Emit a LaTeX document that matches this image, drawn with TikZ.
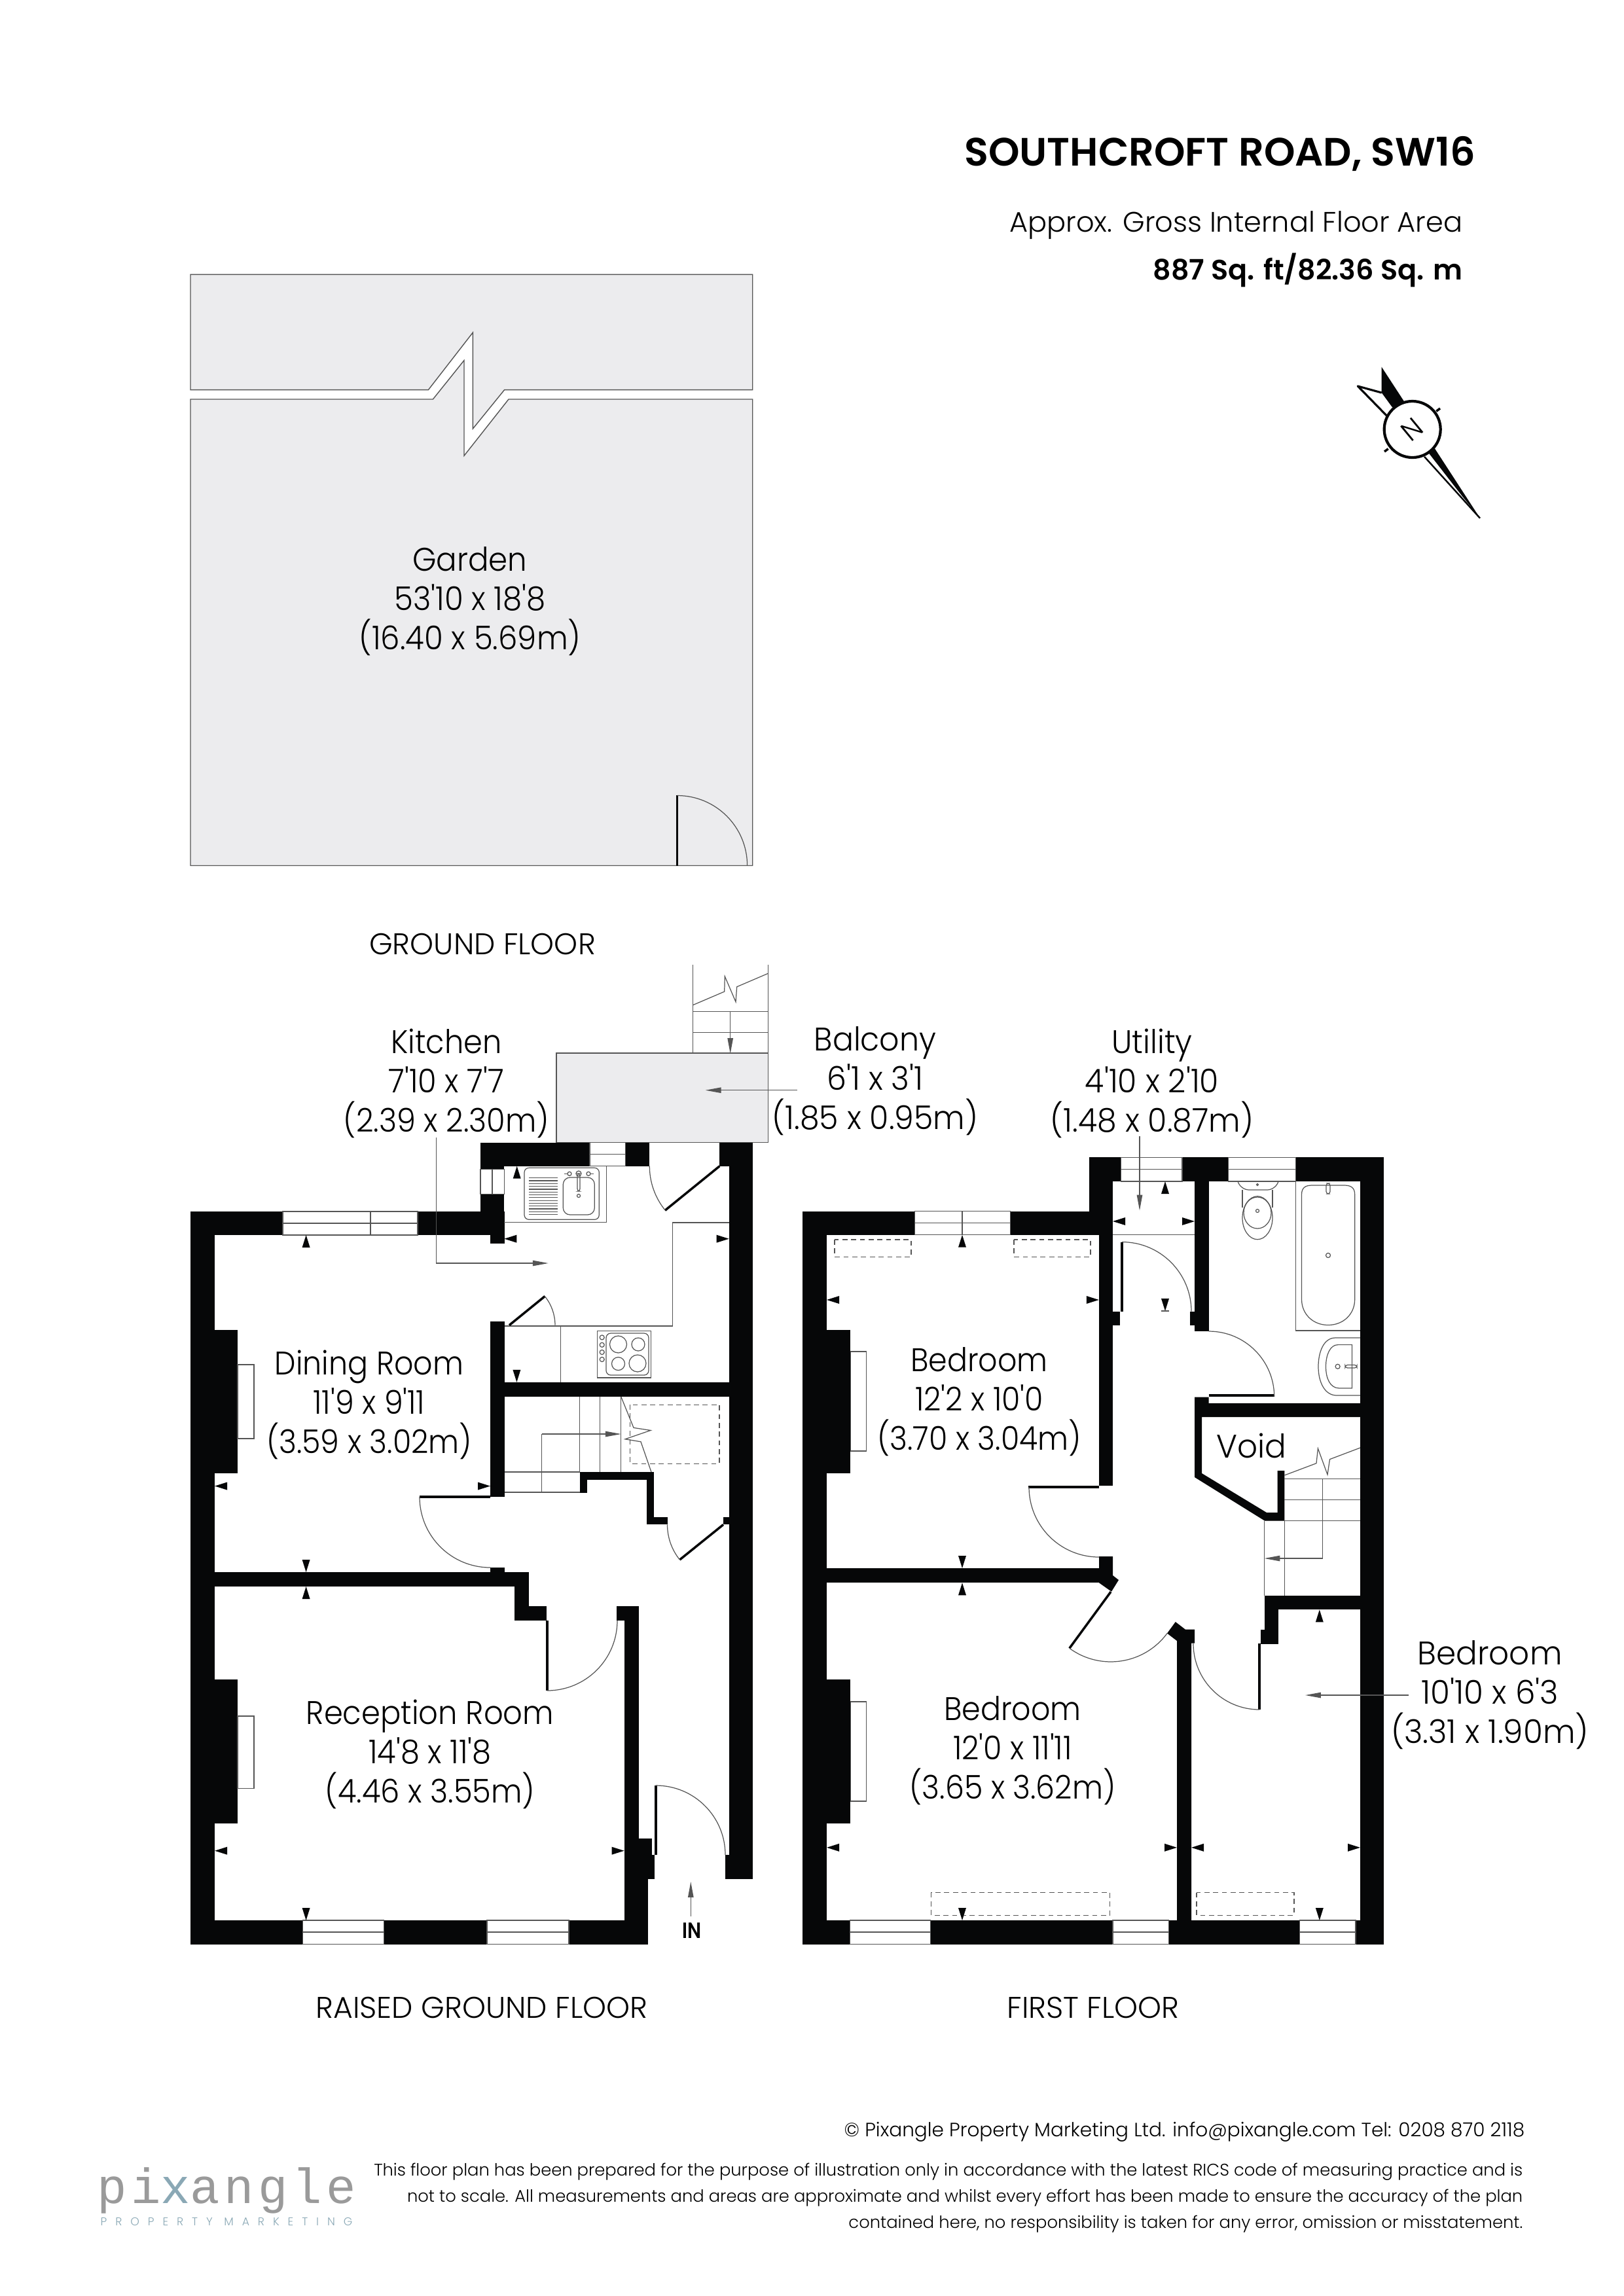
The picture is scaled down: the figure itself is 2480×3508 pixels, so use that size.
\documentclass[tikz,border=0pt]{standalone}
\usepackage{fontspec}
\usetikzlibrary{arrows.meta}
\newfontfamily\planfont{Poppins}[UprightFont=* Light,BoldFont=* SemiBold]
\newfontfamily\logofont{Liberation Mono}[LetterSpace=8.5]
\newfontfamily\logosubfont{Poppins}[UprightFont=* Light,LetterSpace=75]
\definecolor{wallblack}{HTML}{060708}
\definecolor{gardengrey}{HTML}{ECECEE}
\definecolor{linegrey}{HTML}{555555}
\definecolor{logogrey}{HTML}{9A9A9A}
\definecolor{logoblue}{HTML}{8AA8B5}
\tikzset{
  wall/.style={fill=wallblack},
  tipmark/.style={fill=wallblack},
  thinline/.style={draw=linegrey,line width=0.35pt},
  dashbox/.style={draw=linegrey,line width=0.3pt,dash pattern=on 2.2pt off 1.6pt},
  leaf/.style={draw=wallblack,line width=1pt},
  leader/.style={draw=linegrey,line width=0.35pt,-{Triangle[length=6.8pt,width=2.4pt]}},
  roomlabel/.style={align=center,inner sep=0pt,yshift=-0.65mm,font=\planfont\fontsize{14.2}{17}\selectfont},
  floorlabel/.style={inner sep=0pt,font=\planfont\fontsize{13}{14}\selectfont},
  smallprint/.style={align=right,inner sep=0pt,anchor=east,font=\planfont\fontsize{7.33}{11.4}\selectfont}
}
\begin{document}
\begin{tikzpicture}[x=0.01cm,y=-0.01cm]
  \useasboundingbox (0,0) rectangle (2480,3508);

  % Heading
  \node[inner sep=0pt,anchor=east,font=\planfont\bfseries\fontsize{17.2}{20}\selectfont] (title) at (2255,235) {SOUTHCROFT ROAD, SW16};
  \node[inner sep=0pt,anchor=east,font=\planfont\fontsize{12.25}{14}\selectfont] (areatext) at (2235,344) {Approx. Gross Internal Floor Area};
  \node[inner sep=0pt,anchor=east,font=\planfont\bfseries\fontsize{12.2}{14}\selectfont] (areavalue) at (2235,413) {887 Sq. ft/82.36 Sq. m};

  % Compass
  \fill[wallblack] (2110.7,560.7) -- (2145,613.3) -- (2127.3,622.7) -- (2110.7,600) -- cycle;
  \draw[wallblack,line width=0.9pt,line join=round] (2110.7,600) -- (2074.3,590) -- (2118.3,635);
  \fill[wallblack] (2191.7,685) -- (2261,791.7) -- (2233,757) -- (2183.3,693) -- cycle;
  \draw[wallblack,line width=0.7pt] (2176,697.7) -- (2261,791.7);
  \draw[wallblack,line width=1.2pt,fill=white] (2157.7,656) circle (43);
  \draw[wallblack,line width=1pt] (2194.3,628.3) -- (2200,624);
  \draw[wallblack,line width=1pt] (2115,690) -- (2120.7,685.7);
  \node[inner sep=0pt,rotate=39.5,font=\planfont\fontsize{11.8}{12}\selectfont] (northmark) at (2157.7,656) {N};

  % Garden
  \fill[gardengrey,draw=linegrey,line width=0.4pt] (291,419.4) -- (1149.7,419.4) -- (1149.7,595.6) -- (770.6,595.6) -- (722.4,655) -- (722.4,508) -- (654.4,595.6) -- (291,595.6) -- cycle;
  \fill[gardengrey,draw=linegrey,line width=0.4pt] (291,610) -- (661.4,610) -- (709,550.6) -- (709,696.3) -- (777,610) -- (1149.7,610) -- (1149.7,1322.5) -- (291,1322.5) -- cycle;
  \draw[leaf] (1034.6,1215) -- (1034.6,1322.5);
  \draw[thinline] (1034.6,1215.5) arc[start angle=-90,end angle=0,radius=107];
  \node[roomlabel,xscale=0.935] (garden) at (718,912) {Garden\\53'10 x 18'8\\(16.40 x 5.69m)};
  \node[floorlabel] (groundfloor) at (737,1442) {GROUND FLOOR};

  % Balcony and outside steps
  \fill[gardengrey,draw=linegrey,line width=0.4pt] (850,1609) rectangle (1173.3,1745.7);
  \draw[thinline] (1058.3,1474) -- (1058.3,1609);
  \draw[thinline] (1173.3,1474) -- (1173.3,1609);
  \draw[thinline] (1058.3,1545.7) -- (1173.3,1545.7);
  \draw[thinline] (1058.3,1577.3) -- (1173.3,1577.3);
  \draw[thinline] (1058.3,1535.7) -- (1106.7,1515) -- (1107.3,1491.7) -- (1124,1530.7) -- (1125.7,1507.7) -- (1173.3,1487.3);
  \draw[leader] (1115.7,1545.7) -- (1115.7,1610);
  \draw[leader] (1217.7,1665.7) -- (1077.7,1665.7);
  \node[roomlabel,xscale=0.95] (balcony) at (1337,1645) {Balcony\\6'1 x 3'1\\(1.85 x 0.95m)};

  % Raised ground floor outer walls
  \fill[wall] (291,1851) rectangle (328,2970.5);
  \fill[wall] (291,2032) rectangle (363,2251);
  \fill[wall] (291,2566) rectangle (363,2786);
  \fill[wall] (291,1851) rectangle (432,1887);
  \fill[wall] (638,1851) rectangle (771,1887);
  \fill[wall] (749,1887) rectangle (771,1900.3);
  \fill[wall] (734,1745.7) rectangle (901,1781.7);
  \fill[wall] (955.6,1745.7) rectangle (992,1781.7);
  \fill[wall] (1099.3,1745.7) rectangle (1150,1781.7);
  \fill[wall] (734,1745.7) rectangle (770.3,1786.7);
  \fill[wall] (734,1824.7) rectangle (770.3,1851);
  \fill[wall] (1114,1745.7) rectangle (1150,2871);
  \fill[wall] (1107.6,2834.4) rectangle (1150,2871);
  \fill[wall] (291,2934) rectangle (462.7,2970.5);
  \fill[wall] (586.4,2934) rectangle (744,2970.5);
  \fill[wall] (869,2934) rectangle (990,2970.5);

  % Raised ground floor inner walls
  \fill[wall] (749,2112) rectangle (1150,2134);
  \fill[wall] (749,2019) rectangle (771,2287);
  \fill[wall] (886,2249) rectangle (897,2280.5);
  \fill[wall] (886,2249) rectangle (998.5,2260.5);
  \fill[wall] (987.6,2249) rectangle (998.5,2329.4);
  \fill[wall] (987.6,2318) rectangle (1019.7,2329.4);
  \fill[wall] (1105,2318) rectangle (1114,2329.4);
  \fill[wall] (291,2402) rectangle (807.6,2424);
  \fill[wall] (749,2394.6) rectangle (771,2402);
  \fill[wall] (786.4,2402) rectangle (807.6,2476);
  \fill[wall] (786.4,2454) rectangle (835,2476);
  \fill[wall] (941.5,2454) rectangle (975.5,2476);
  \fill[wall] (953.6,2454) rectangle (975.5,2809);
  \fill[wall] (953.6,2809) rectangle (996,2834.4);
  \fill[wall] (953.6,2834.4) rectangle (1000.3,2871);
  \fill[wall] (953.6,2871) rectangle (990,2970.5);

  % Raised ground floor windows
  \draw[thinline] (432,1851) rectangle (638,1887);
  \draw[thinline] (432,1869) -- (638,1869);
  \draw[thinline] (566,1851) -- (566,1887);
  \draw[thinline] (901,1745.7) rectangle (955.6,1781.7);
  \draw[thinline] (901,1763.7) -- (955.6,1763.7);
  \draw[thinline] (734,1786.7) rectangle (770.3,1824.7);
  \draw[thinline] (752,1786.7) -- (752,1824.7);
  \draw[thinline] (462.7,2934) rectangle (586.4,2970.5);
  \draw[thinline] (462.7,2952) -- (586.4,2952);
  \draw[thinline] (744,2934) rectangle (869,2970.5);
  \draw[thinline] (744,2952) -- (869,2952);

  % Fireplaces
  \draw[thinline] (363,2085) rectangle (388,2198);
  \draw[thinline] (363,2622) rectangle (388,2732.6);
  \draw[thinline] (1299,2065) rectangle (1323.6,2217);
  \draw[thinline] (1299,2600) rectangle (1323.6,2752);

  % Kitchen units
  \draw[thinline] (926.3,1781.7) -- (926.3,1867.3) -- (770.3,1867.3);
  \draw[thinline,rounded corners=2] (801,1784.3) rectangle (915.3,1863.3);
  \draw[thinline,rounded corners=3] (860.3,1799) rectangle (908.3,1856);
  \foreach \drainy in {1799.7,1804,1808.3,1812.6,1816.9,1821.2,1825.5,1829.8,1834.1,1838.4,1842.7,1847,1851.3,1855.6}
    \draw[thinline] (808.3,\drainy) -- (851.7,\drainy);
  \draw[thinline,rounded corners=1] (882,1793) rectangle (886,1820);
  \draw[thinline] (884,1793) circle (4);
  \draw[thinline] (884,1827) circle (2.5);
  \draw[thinline] (870,1793.3) circle (3);
  \draw[thinline] (899,1793.3) circle (3);
  \draw[thinline] (862,1793.3) -- (867,1793.3);
  \draw[thinline] (902,1793.3) -- (907,1793.3);
  \draw[thinline] (771,2026) -- (1027.6,2026) -- (1027.6,1868) -- (1114,1868);
  \draw[thinline] (856.7,2026) -- (856.7,2112);
  \draw[thinline] (912.4,2033.4) rectangle (994.8,2105);
  \draw[thinline,rounded corners=2] (926,2037) rectangle (991,2101);
  \draw[thinline] (944.5,2054) circle (13);
  \draw[thinline] (975,2054) circle (10);
  \draw[thinline] (944.5,2083.6) circle (10);
  \draw[thinline] (974,2083) circle (13);
  \draw[thinline] (919.7,2043.4) circle (3.5);
  \draw[thinline] (919.7,2054.8) circle (3.5);
  \draw[thinline] (919.7,2066) circle (3.5);
  \draw[thinline] (919.7,2077) circle (3.5);

  % Raised ground floor stairs
  \draw[thinline] (885.8,2134) -- (885.8,2249);
  \draw[thinline] (916.7,2134) -- (916.7,2249);
  \draw[thinline] (948.8,2134) -- (948.8,2249);
  \draw[thinline] (771,2249) -- (886,2249);
  \draw[thinline] (771,2280) -- (886,2280);
  \draw[thinline] (827.6,2280) -- (827.6,2191);
  \draw[leader] (827.6,2191) -- (948.8,2191);
  \draw[dashbox] (962.7,2146) rectangle (1099,2236);
  \draw[thinline] (948.8,2134) -- (968,2181.4) -- (994,2185.4) -- (955,2198.8) -- (979,2202.8) -- (995,2249);

  % Raised ground floor doors
  \draw[leaf] (1099.3,1781.7) -- (1016,1849.3);
  \draw[thinline] (992.3,1781.7) arc[start angle=180,end angle=141,radius=107];
  \draw[leaf] (778,2024.7) -- (832.4,1980.5);
  \draw[thinline] (848,2024.7) arc[start angle=0,end angle=-39,radius=70];
  \draw[leaf] (749,2287) -- (641,2287);
  \draw[thinline] (641,2287) arc[start angle=180,end angle=90,radius=108];
  \draw[leaf] (1105,2329.4) -- (1038.5,2383);
  \draw[thinline] (1019.5,2329.4) arc[start angle=180,end angle=141,radius=85.5];
  \draw[leaf] (836,2476) -- (836,2583);
  \draw[thinline] (836,2583) arc[start angle=90,end angle=0,radius=107];
  \draw[leaf] (1002,2834.4) -- (1002,2728);
  \draw[thinline] (1002,2728) arc[start angle=-90,end angle=0,radius=106];

  % Raised ground floor dimension marks
  \fill[tipmark] (467.6,1887) -- ++(-6,19) -- ++(12,0) -- cycle;
  \fill[tipmark] (328,2270.5) -- ++(19,-6) -- ++(0,12) -- cycle;
  \fill[tipmark] (749,2270.5) -- ++(-19,-6) -- ++(0,12) -- cycle;
  \fill[tipmark] (467.6,2402) -- ++(-6,-19) -- ++(12,0) -- cycle;
  \fill[tipmark] (467.6,2424) -- ++(-6,19) -- ++(12,0) -- cycle;
  \fill[tipmark] (328,2827.7) -- ++(19,-6) -- ++(0,12) -- cycle;
  \fill[tipmark] (953.6,2827.7) -- ++(-19,-6) -- ++(0,12) -- cycle;
  \fill[tipmark] (467.6,2934) -- ++(-6,-19) -- ++(12,0) -- cycle;
  \fill[tipmark] (789.7,1781.7) -- ++(-6,19) -- ++(12,0) -- cycle;
  \fill[tipmark] (770.3,1892.7) -- ++(19,-6) -- ++(0,12) -- cycle;
  \fill[tipmark] (1113.7,1892.7) -- ++(-19,-6) -- ++(0,12) -- cycle;
  \fill[tipmark] (789.4,2111.8) -- ++(-6,-19) -- ++(12,0) -- cycle;

  % Raised ground floor labels
  \draw[leader] (666.4,1738) |- (837.7,1930);
  \draw[leader] (1055.3,2928) -- (1055.3,2875);
  \node[roomlabel,xscale=0.927] (kitchen) at (682,1649) {Kitchen\\7'10 x 7'7\\(2.39 x 2.30m)};
  \node[roomlabel,xscale=0.92] (dining) at (564,2140) {Dining Room\\11'9 x 9'11\\(3.59 x 3.02m)};
  \node[roomlabel,xscale=0.93] (reception) at (657,2674) {Reception Room\\14'8 x 11'8\\(4.46 x 3.55m)};
  \node[inner sep=0pt,xscale=0.85,font=\planfont\bfseries\fontsize{9.6}{10}\selectfont] (entrance) at (1057.3,2950) {IN};
  \node[floorlabel] (raisedfloor) at (736,3067) {RAISED GROUND FLOOR};

  % First floor outer walls
  \fill[wall] (1226,1850.5) rectangle (1263,2970.5);
  \fill[wall] (1226,2031.6) rectangle (1299,2251);
  \fill[wall] (1226,2566) rectangle (1299,2786);
  \fill[wall] (1226,1850.5) rectangle (1397.6,1886.7);
  \fill[wall] (1543.6,1850.5) rectangle (1700,1886.7);
  \fill[wall] (1664,1768.4) rectangle (1700,1886.7);
  \fill[wall] (1664,1768.4) rectangle (1712.7,1805);
  \fill[wall] (1806,1768.4) rectangle (1876.4,1805);
  \fill[wall] (1979.4,1768.4) rectangle (2114,1805);
  \fill[wall] (2078,1768.4) rectangle (2114,2970.5);
  \fill[wall] (1226,2934) rectangle (1298.8,2970.5);
  \fill[wall] (1421.8,2934) rectangle (1700,2970.5);
  \fill[wall] (1785.5,2934) rectangle (1985.5,2970.5);
  \fill[wall] (2071,2934) rectangle (2114,2970.5);

  % First floor inner walls
  \fill[wall] (1678.8,1886) rectangle (1700,2270.4);
  \fill[wall] (1678.8,2003.6) rectangle (1711,2024.5);
  \fill[wall] (1825,1805) rectangle (1846.7,2034);
  \fill[wall] (1818,2003.6) rectangle (1846.7,2024.5);
  \fill[wall] (1825,2134.7) -- (1825,2257) -- (1932,2323.5) -- (1962.4,2323.5) -- (1962.4,2247) -- (1951.5,2247) -- (1951.5,2311) -- (1935,2311) -- (1836,2251) -- (1836,2165) -- (2078,2165) -- (2078,2144) -- (1846.7,2144) -- (1846.7,2134.7) -- cycle;
  \fill[wall] (1226,2396) rectangle (1679,2418.3);
  \fill[wall] (1679,2378) -- (1700,2378) -- (1700,2407) -- (1709,2414) -- (1698,2431.7) -- (1679,2418.3) -- cycle;
  \fill[wall] (1795.8,2478) -- (1811,2489.7) -- (1825,2489.7) -- (1825,2510.7) -- (1820,2510.7) -- (1820,2934) -- (1798,2934) -- (1798,2507) -- (1783,2495.5) -- cycle;
  \fill[wall] (1925.5,2489.7) rectangle (1953.3,2511.6);
  \fill[wall] (1931.5,2438.4) rectangle (1953.3,2511.6);
  \fill[wall] (1931.5,2438.4) rectangle (2114,2459.4);

  % First floor windows
  \draw[thinline] (1397.6,1850.5) rectangle (1543.6,1886.7);
  \draw[thinline] (1397.6,1868.4) -- (1543.6,1868.4);
  \draw[thinline] (1470,1850.5) -- (1470,1886.7);
  \draw[thinline] (1712.7,1768.4) rectangle (1806,1805);
  \draw[thinline] (1712.7,1786.7) -- (1806,1786.7);
  \draw[thinline] (1876.4,1768.4) rectangle (1979.4,1805);
  \draw[thinline] (1876.4,1786.7) -- (1979.4,1786.7);
  \draw[thinline] (1298.8,2934) rectangle (1421.8,2970.5);
  \draw[thinline] (1298.8,2952) -- (1421.8,2952);
  \draw[thinline] (1700,2934) rectangle (1785.5,2970.5);
  \draw[thinline] (1700,2952) -- (1785.5,2952);
  \draw[thinline] (1985.5,2934) rectangle (2071,2970.5);
  \draw[thinline] (1985.5,2952) -- (2071,2952);

  % Dashed cupboards
  \draw[dashbox] (1275,1894) rectangle (1392,1920.4);
  \draw[dashbox] (1549,1894) rectangle (1666,1920.4);
  \draw[dashbox] (1422.4,2891.5) rectangle (1695.8,2926);
  \draw[dashbox] (1828,2891.5) rectangle (1977,2926);

  % Bathroom
  \draw[thinline] (1700,1886.7) -- (1825,1886.7);
  \draw[thinline,rounded corners=4] (1891,1805) -- (1894,1818) -- (1950,1818) -- (1953,1805);
  \draw[thinline] (1898,1818) -- (1898,1845);
  \draw[thinline] (1944,1818) -- (1944,1845);
  \draw[thinline] (1921,1860.7) ellipse (23 and 33);
  \draw[thinline] (1921,1853) ellipse (21 and 24);
  \draw[thinline] (1921,1850) circle (2.5);
  \draw[thinline] (1921,1810) circle (1.5);
  \draw[thinline] (1979.4,1805) -- (1979.4,2033) -- (2078,2033);
  \draw[thinline] (1988.5,1825) .. controls (1988.5,1815) and (1994,1811) .. (2004,1811) -- (2054,1811) .. controls (2064,1811) and (2069.7,1815) .. (2069.7,1825) -- (2069.7,1985) .. controls (2069.7,2008) and (2052,2024.5) .. (2029,2024.5) .. controls (2006,2024.5) and (1988.5,2008) .. (1988.5,1985) -- cycle;
  \draw[thinline] (2029,1918) circle (3.5);
  \draw[thinline,rounded corners=1] (2026,1808) rectangle (2032,1824);
  \draw[thinline] (2078,2044) -- (2040,2044) .. controls (2022,2044) and (2014,2066) .. (2014,2088) .. controls (2014,2112) and (2024,2132) .. (2042,2132) -- (2078,2132);
  \draw[thinline] (2065.5,2054.6) -- (2044,2054.6) .. controls (2032,2054.6) and (2025.5,2070) .. (2025.5,2088) .. controls (2025.5,2106) and (2032,2121) .. (2046,2121) -- (2065.5,2121) -- cycle;
  \draw[thinline] (2043.6,2087.8) circle (3.5);
  \draw[thinline,rounded corners=1] (2055,2085.5) rectangle (2073,2090);

  % First floor stairs
  \draw[thinline] (1962.4,2259.7) -- (2078,2259.7);
  \draw[thinline] (1962.4,2291.8) -- (2078,2291.8);
  \draw[thinline] (1931.5,2323.5) -- (2078,2323.5);
  \draw[thinline] (1931.5,2323.5) -- (1931.5,2438.4);
  \draw[thinline] (1962.4,2323.5) -- (1962.4,2438.4);
  \draw[thinline] (2020.6,2259.7) -- (2020.6,2381);
  \draw[leader] (2020.6,2381) -- (1931.5,2381);
  \draw[thinline] (1962.4,2254) -- (2011,2235.7) -- (2013.4,2213) -- (2028,2253) -- (2031.5,2229.6) -- (2078,2212);

  % First floor doors
  \draw[leaf] (1714,2003.6) -- (1714,1897.6);
  \draw[thinline] (1714,1897.6) arc[start angle=-90,end angle=0,radius=106];
  \draw[leaf] (1846.7,2132) -- (1947,2132);
  \draw[thinline] (1846.7,2034) arc[start angle=-90,end angle=0,radius=100];
  \draw[leaf] (1679,2272) -- (1571,2272);
  \draw[thinline] (1572,2272) arc[start angle=180,end angle=90,radius=107];
  \draw[leaf] (1697,2432) -- (1633.8,2518.3);
  \draw[thinline] (1633.8,2518.3) arc[start angle=126.2,end angle=36.4,radius=107];
  \draw[leaf] (1924,2511) -- (1924,2612);
  \draw[thinline] (1823,2511) arc[start angle=180,end angle=90,radius=101];

  % First floor dimension marks
  \fill[tipmark] (1780,1805) -- ++(-6,19) -- ++(12,0) -- cycle;
  \fill[tipmark] (1700,1866) -- ++(19,-6) -- ++(0,12) -- cycle;
  \fill[tipmark] (1825,1866) -- ++(-19,-6) -- ++(0,12) -- cycle;
  \fill[tipmark] (1780,2003) -- ++(-6,-19) -- ++(12,0) -- cycle;
  \draw[thinline] (1774,2003) -- (1786,2003);
  \fill[tipmark] (1470,1886.7) -- ++(-6,19) -- ++(12,0) -- cycle;
  \fill[tipmark] (1263,1986) -- ++(19,-6) -- ++(0,12) -- cycle;
  \fill[tipmark] (1678.8,1986) -- ++(-19,-6) -- ++(0,12) -- cycle;
  \fill[tipmark] (1470,2396) -- ++(-6,-19) -- ++(12,0) -- cycle;
  \fill[tipmark] (1470,2418.3) -- ++(-6,19) -- ++(12,0) -- cycle;
  \fill[tipmark] (1263,2822.8) -- ++(19,-6) -- ++(0,12) -- cycle;
  \fill[tipmark] (1798,2822.8) -- ++(-19,-6) -- ++(0,12) -- cycle;
  \fill[tipmark] (1470,2934) -- ++(-6,-19) -- ++(12,0) -- cycle;
  \fill[tipmark] (1820,2822.8) -- ++(19,-6) -- ++(0,12) -- cycle;
  \fill[tipmark] (2078,2822.8) -- ++(-19,-6) -- ++(0,12) -- cycle;
  \fill[tipmark] (2015.8,2459.4) -- ++(-6,19) -- ++(12,0) -- cycle;
  \fill[tipmark] (2015.8,2934) -- ++(-6,-19) -- ++(12,0) -- cycle;

  % First floor labels
  \draw[leader] (1741,1735.7) -- (1741,1849.5);
  \draw[leader] (2152,2590) -- (1994,2590);
  \node[roomlabel,xscale=0.95] (utility) at (1760,1649) {Utility\\4'10 x 2'10\\(1.48 x 0.87m)};
  \node[roomlabel,xscale=0.92] (bedroomrear) at (1496,2135) {Bedroom\\12'2 x 10'0\\(3.70 x 3.04m)};
  \node[roomlabel,xscale=0.92] (bedroomfront) at (1547,2668) {Bedroom\\12'0 x 11'11\\(3.65 x 3.62m)};
  \node[roomlabel,xscale=0.97] (bedroomside) at (2276,2583) {Bedroom\\10'10 x 6'3\\(3.31 x 1.90m)};
  \node[roomlabel,xscale=0.97,yshift=0.65mm] (void) at (1912,2209) {Void};
  \node[floorlabel] (firstfloor) at (1670,3067) {FIRST FLOOR};

  % Footer
  \node[smallprint,font=\planfont\fontsize{8.4}{11.4}\selectfont] (copyright) at (2330,3257) {© Pixangle Property Marketing Ltd. info@pixangle.com Tel: 0208 870 2118};
  \node[smallprint] (disclaimer) at (2327,3358) {This floor plan has been prepared for the purpose of illustration only in accordance with the latest RICS code of measuring practice and is\\not to scale. All measurements and areas are approximate and whilst every effort has been made to ensure the accuracy of the plan\\contained here, no responsibility is taken for any error, omission or misstatement.};
  \node[inner sep=0pt,text=logogrey,font=\logofont\fontsize{21.5}{22}\selectfont] (logo) at (346,3347) {pi{\color{logoblue}x}angle};
  \node[inner sep=0pt,text=logoblue,font=\logosubfont\fontsize{4.9}{6}\selectfont] (logosub) at (346,3394) {PROPERTY MARKETING};
\end{tikzpicture}
\end{document}
